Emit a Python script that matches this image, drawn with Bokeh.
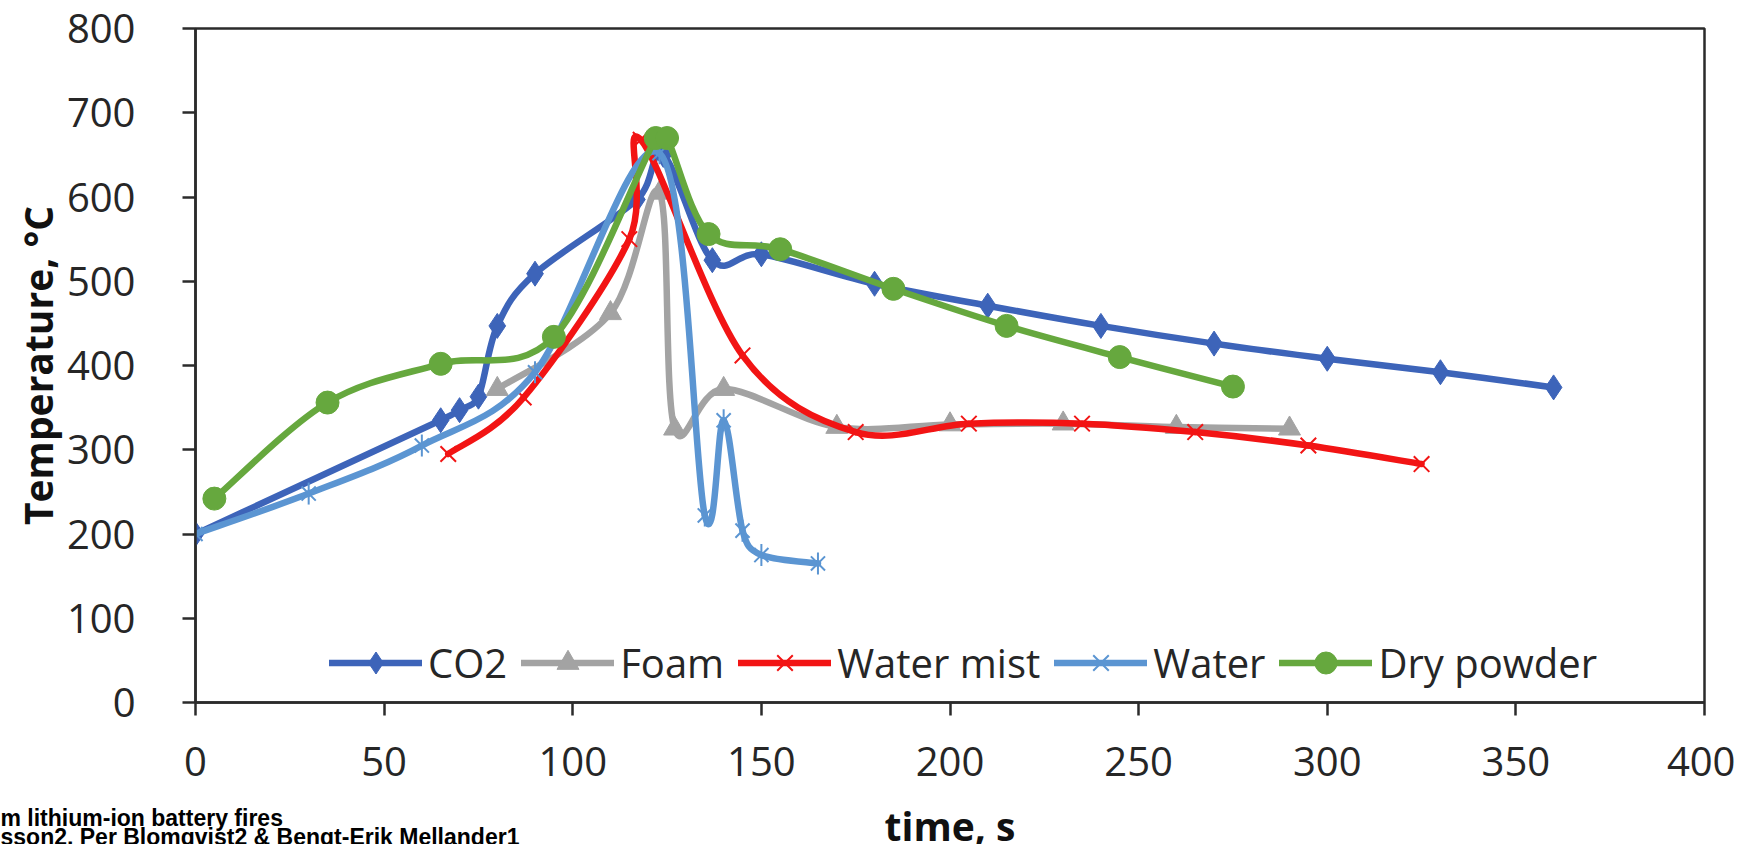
import math
from bokeh.plotting import figure
from bokeh.layouts import column
from bokeh.models import Range1d, FixedTicker, Legend, LegendItem
from bokeh.core.properties import value
from bokeh.embed import file_html
from bokeh.resources import INLINE

# ---------------- data ----------------
co2_t = [0, 65, 70, 75, 80, 90, 117, 124, 137, 150, 180, 210, 240, 270, 300, 330, 360]
co2_v = [200, 335, 347, 363, 447, 509, 597, 650, 525, 532, 497, 471, 447, 426, 408, 392, 374]

foam_t = [80, 110, 123, 127, 140, 170, 200, 230, 260, 290]
foam_v = [372, 462, 605, 325, 372, 327, 330, 331, 327, 325]

mist_t = [67, 87, 115, 118, 145, 175, 205, 235, 265, 295, 325]
mist_v = [295, 362, 550, 668, 412, 321, 331, 331, 321, 305, 283]

water_t = [0, 30, 60, 90, 123, 135, 140, 145, 150, 165]
water_v = [200, 248, 305, 392, 652, 222, 335, 204, 175, 165]

dry_t = [5, 35, 65, 95, 122, 125, 136, 155, 185, 215, 245, 275]
dry_v = [242, 356, 402, 434, 670, 670, 556, 538, 491, 447, 410, 375]

series_names = ["CO2", "Foam", "Water mist", "Water", "Dry powder"]
x_ticks = [0, 50, 100, 150, 200, 250, 300, 350, 400]
y_ticks = [0, 100, 200, 300, 400, 500, 600, 700, 800]
x_title = "time, s"
y_title = "Temperature, °C"
note_1 = "m lithium-ion battery fires"
note_2 = "sson2, Per Blomqvist2 & Bengt-Erik Mellander1"

# ---------------- layout ----------------
W = 1735
H1, H2 = 800, 44           # chart figure + strip below it for the bottom texts
FL, FR, FT, FB = 195, 1704, 28, 702   # frame edges in canvas px
XPX = (FR - FL) / 400.0
YPX = (FB - FT) / 800.0
STRIP_SHIFT = 8            # observed downward offset of the strip's contents

FONT = "Open Sans"
TXT = "#262626"

p = figure(width=W, height=H1, output_backend="svg", toolbar_location=None,
           x_range=Range1d(0, 400), y_range=Range1d(0, 800),
           min_border_left=FL, min_border_right=W - FR,
           min_border_top=FT, min_border_bottom=H1 - FB)
p.xgrid.visible = False
p.ygrid.visible = False
p.background_fill_color = "white"
p.border_fill_color = "white"
p.outline_line_color = "#2b2b2b"
p.outline_line_width = 2.5

p.xaxis.ticker = FixedTicker(ticks=x_ticks)
p.yaxis.ticker = FixedTicker(ticks=y_ticks)
for ax in (p.xaxis, p.yaxis):
    ax.minor_tick_line_color = None
    ax.major_tick_in = 0
    ax.major_tick_out = 13
    ax.major_tick_line_width = 2.5
    ax.major_tick_line_color = "#2b2b2b"
    ax.axis_line_color = "#2b2b2b"
    ax.axis_line_width = 2.5
    ax.major_label_text_font = FONT
    ax.major_label_text_font_size = "40px"
    ax.major_label_text_color = TXT
    ax.axis_label_text_font = FONT
    ax.axis_label_text_font_style = "bold"
    ax.axis_label_text_font_size = "39px"
    ax.axis_label_text_color = "#111111"
p.yaxis.axis_label = y_title
p.xaxis.major_label_standoff = 31
p.yaxis.major_label_standoff = 47
p.yaxis.axis_label_standoff = 0


def smooth(ts, vs):
    """Cubic Bezier control points (Catmull-Rom style, clamped in screen space)."""
    n = len(ts)
    pts = [(t * XPX, v * YPX) for t, v in zip(ts, vs)]

    def tangent(i, seg_len):
        a = pts[i - 1] if i > 0 else pts[i]
        b = pts[i + 1] if i < n - 1 else pts[i]
        dx, dy = (b[0] - a[0]) / 6.0, (b[1] - a[1]) / 6.0
        L = math.hypot(dx, dy)
        lim = 0.5 * seg_len
        if L > lim and L > 0:
            dx, dy = dx * lim / L, dy * lim / L
        return dx, dy

    out = {k: [] for k in ("x0", "y0", "x1", "y1", "cx0", "cy0", "cx1", "cy1")}
    for i in range(n - 1):
        p0, p1 = pts[i], pts[i + 1]
        seg = math.hypot(p1[0] - p0[0], p1[1] - p0[1])
        d0 = tangent(i, seg)
        d1 = tangent(i + 1, seg)
        c0 = (p0[0] + d0[0], p0[1] + d0[1])
        c1 = (p1[0] - d1[0], p1[1] - d1[1])
        out["x0"].append(p0[0] / XPX); out["y0"].append(p0[1] / YPX)
        out["x1"].append(p1[0] / XPX); out["y1"].append(p1[1] / YPX)
        out["cx0"].append(c0[0] / XPX); out["cy0"].append(c0[1] / YPX)
        out["cx1"].append(c1[0] / XPX); out["cy1"].append(c1[1] / YPX)
    return out


colors = ["#3d64b9", "#a3a3a3", "#f21414", "#5b95d2", "#66a83e"]
data = [(co2_t, co2_v), (foam_t, foam_v), (mist_t, mist_v), (water_t, water_v), (dry_t, dry_v)]
LW = 6.5
items = []
for k, (name, col, (ts, vs)) in enumerate(zip(series_names, colors, data)):
    s = smooth(ts, vs)
    line_r = p.bezier(x0=s["x0"], y0=s["y0"], x1=s["x1"], y1=s["y1"],
                      cx0=s["cx0"], cy0=s["cy0"], cx1=s["cx1"], cy1=s["cy1"],
                      line_color=col, line_width=LW, line_cap="round")
    rs = [line_r]
    if k == 0:
        rs.append(p.scatter(ts, vs, marker="diamond", size=25, fill_color=col, line_color=col))
    elif k == 1:
        rs.append(p.scatter(ts, vs, marker="triangle", size=22, fill_color=col, line_color=col))
    elif k == 2:
        rs.append(p.scatter(ts, vs, marker="x", size=22, line_color=col, line_width=2))
    elif k == 3:
        rs.append(p.scatter(ts, vs, marker="x", size=20, line_color=col, line_width=2))
        rs.append(p.scatter(ts, vs, marker="dash", size=22, angle=math.pi / 2,
                            line_color=col, line_width=2))
    else:
        rs.append(p.scatter(ts, vs, marker="circle", size=23, fill_color=col, line_color=col))
    items.append(LegendItem(label=name, renderers=rs))

legend = Legend(items=items, orientation="horizontal", location=(134, 12),
                glyph_width=93, glyph_height=55, label_standoff=6, spacing=14,
                padding=0, margin=0, border_line_color=None,
                background_fill_alpha=0,
                label_text_font=FONT, label_text_font_size="40px",
                label_text_color=TXT)
p.add_layout(legend)

# ---------------- strip below the chart: x-axis title and the cut-off source note ----------------
p2 = figure(frame_width=W, frame_height=H2, output_backend="svg", toolbar_location=None,
            x_range=Range1d(0, W), y_range=Range1d(0, H2),
            min_border_left=0, min_border_right=0, min_border_top=0, min_border_bottom=0,
            x_axis_location=None, y_axis_location=None)
try:
    p2.title_location = None
except Exception:
    p2.title.visible = False
p2.xgrid.visible = False
p2.ygrid.visible = False
p2.outline_line_color = None
p2.background_fill_color = "white"
p2.border_fill_color = "white"
for fig in (p, p2):
    if "frame_align" in fig.properties():
        fig.frame_align = False

Y0 = H1 + H2 + STRIP_SHIFT  # page y of the strip's y=0 line
p2.text(x=[(FL + FR) / 2.0], y=[Y0 - 833], text=[x_title],
        text_font=value(FONT), text_font_style="bold", text_font_size="39px",
        text_color="#111111", text_align="center", text_baseline="alphabetic")
p2.text(x=[0, 0], y=[Y0 - 825, Y0 - 844], text=[note_1, note_2],
        text_font=value("Liberation Sans"), text_font_style="bold", text_font_size="23px",
        text_color="black", text_align="left", text_baseline="alphabetic")

layout = column(p, p2, spacing=0)
open("out.html", "w").write(file_html(layout, INLINE))
